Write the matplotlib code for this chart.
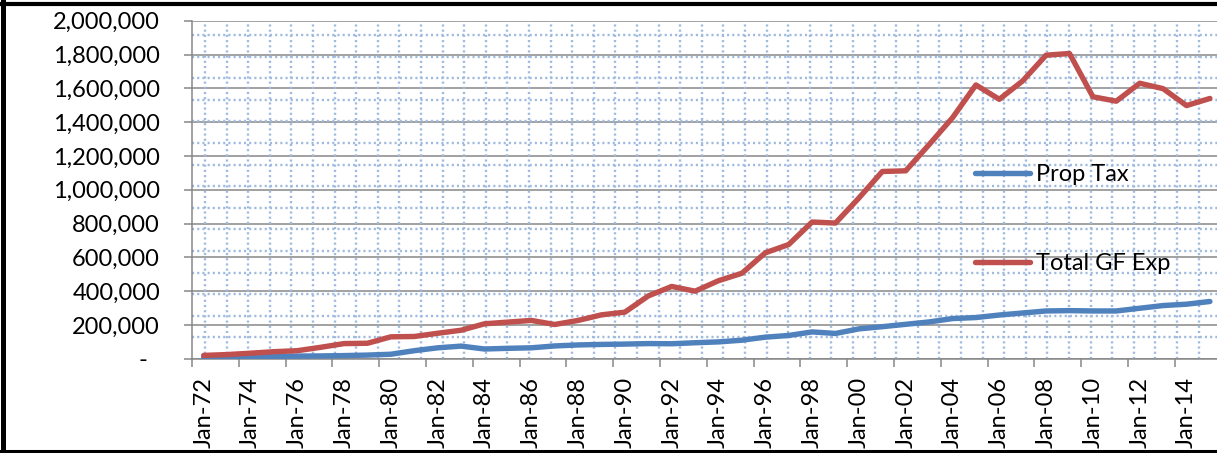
import numpy as np
import matplotlib.pyplot as plt
from matplotlib.lines import Line2D
from matplotlib.ticker import FixedLocator, FuncFormatter

plt.rcParams['font.family'] = ['Lato', 'DejaVu Sans']

years = list(range(1972, 2016))
x_labels = ['Jan-%02d' % (y % 100) for y in years[::2]]

# values
prop_tax = [8, 10, 12, 14, 16, 17, 19, 22, 27, 48,
            65, 75, 58, 62, 65, 76, 82, 85, 87, 90,
            89, 95, 100, 110, 128, 138, 159, 150, 177, 190,
            204, 218, 238, 244, 259, 271, 283, 285, 283, 283,
            299, 315, 323, 339]
total_gf_exp = [20, 25, 33, 42, 48, 68, 90, 92, 130, 132,
                151, 169, 207, 217, 227, 203, 227, 260, 276, 372,
                428, 400, 462, 506, 627, 676, 809, 803, 951, 1108,
                1112, 1267, 1426, 1620, 1535, 1644, 1796, 1806, 1550, 1524,
                1630, 1598, 1498, 1540]
prop_tax = np.array(prop_tax) * 1000
total_gf_exp = np.array(total_gf_exp) * 1000

W, H = 1217, 453
fig = plt.figure(figsize=(W / 100, H / 100), dpi=100)
ax = fig.add_axes([192 / W, 1 - 358.8 / H, 1029.6 / W, 338.1 / H])

x = np.arange(len(years))
ax.plot(x, prop_tax, color='#4F81BD', lw=3.9, label='Prop Tax', zorder=3,
        solid_capstyle='round')
ax.plot(x, total_gf_exp, color='#C0504D', lw=3.9, label='Total GF Exp', zorder=4,
        solid_capstyle='round')

ax.set_xlim(-0.5, len(years) - 0.5)
ax.set_ylim(0, 2000000)

# dotted pattern fill of the plot area
step_x = 21.6 / 1029.6
step_y = 21.6 / 338.1
dot = dict(color='#9fbadf', lw=1.7, ls=(0, (0.9, 1.3)), transform=ax.transAxes, zorder=1)
for fx in np.arange(13 / 1029.6, 1, step_x):
    ax.plot([fx, fx], [0, 1], **dot)
for fy in np.arange(1 - 14.3 / 338.1, 0, -step_y):
    ax.plot([0, 1], [fy, fy], **dot)

gray = '#878787'
ax.yaxis.set_major_locator(FixedLocator(np.arange(0, 2000001, 200000)))
ax.yaxis.set_major_formatter(FuncFormatter(lambda v, p: '-  ' if v == 0 else f'{int(v):,}'))
ax.grid(axis='y', color=gray, lw=1.1, zorder=2)
ax.set_axisbelow(True)

ax.set_xticks(x[::2])
ax.set_xticklabels(x_labels, rotation=90)
ax.set_xticks(np.arange(-0.5, len(years), 2), minor=True)
ax.tick_params(axis='x', which='major', length=0, pad=13, labelsize=17)
ax.tick_params(axis='x', which='minor', length=6, width=1.1, color=gray, direction='out')
ax.tick_params(axis='y', length=6, width=1.1, color=gray, pad=17, labelsize=17)

for s in ['top', 'right']:
    ax.spines[s].set_visible(False)
for s in ['left', 'bottom']:
    ax.spines[s].set_color(gray)
    ax.spines[s].set_linewidth(1.1)

ax.legend(loc='upper left', bbox_to_anchor=(975 / W, 1 - 164 / H),
          bbox_transform=fig.transFigure, frameon=False, fontsize=17,
          handlelength=2.35, handletextpad=0.25, labelspacing=2.9,
          borderpad=0, borderaxespad=0)

# outer chart border
fig.add_artist(Line2D([2.5 / W, 2.5 / W], [0, 1], color='black', lw=3.6))
fig.add_artist(Line2D([0, 1], [1 - 3.5 / H, 1 - 3.5 / H], color='black', lw=3.0))
fig.add_artist(Line2D([0, 1], [1 - 450.5 / H, 1 - 450.5 / H], color='black', lw=2.2))

plt.savefig('out.png', dpi=100)
